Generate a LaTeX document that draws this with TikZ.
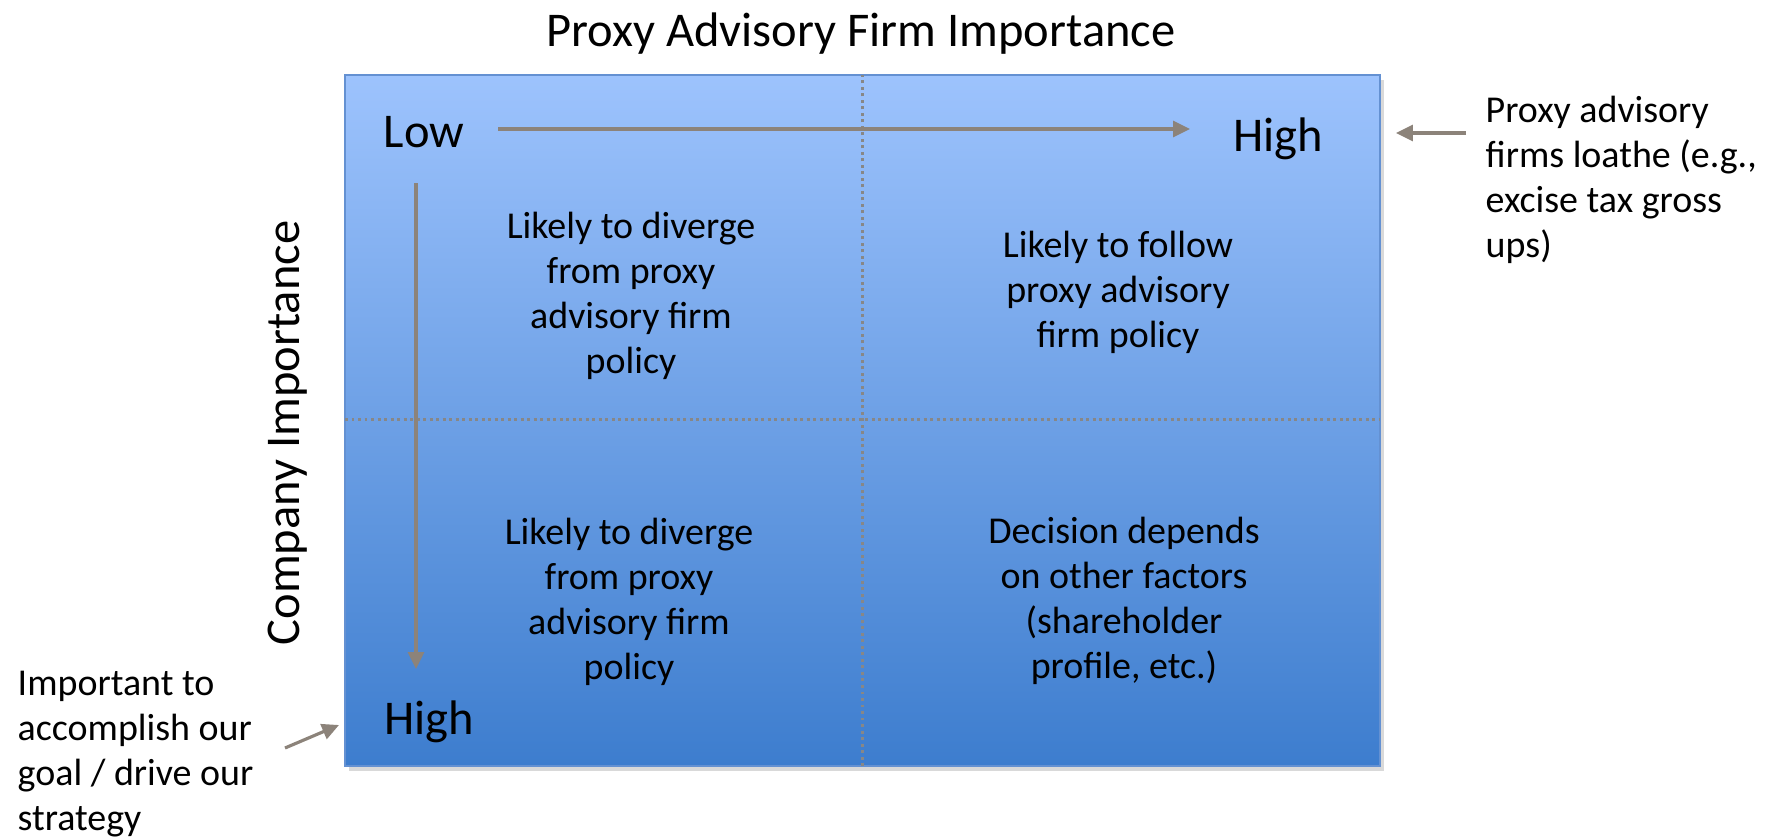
\documentclass[tikz,border=0pt]{standalone}
\usepackage{fontspec}
\setmainfont{Carlito}
\usetikzlibrary{arrows.meta,shadows}

\definecolor{boxtop}{RGB}{157,195,253}
\definecolor{boxbottom}{RGB}{61,125,206}
\definecolor{boxedge}{RGB}{100,145,210}
\definecolor{arrowgray}{RGB}{140,131,122}
\definecolor{gridgray}{RGB}{135,135,135}

\begin{document}
\begin{tikzpicture}[
    bigtext/.style={font=\fontsize{13.8}{16}\selectfont, inner sep=0pt},
    celltext/.style={font=\fontsize{10.8}{12.8}\selectfont, align=center, inner sep=0pt},
    notetext/.style={font=\fontsize{10.8}{12.8}\selectfont, align=left, inner sep=0pt, anchor=north west},
    axisarrow/.style={draw=arrowgray, line width=0.9pt, -{Triangle[length=4.8pt,width=4.5pt]}},
    gridline/.style={draw=gridgray, line width=0.85pt, dash pattern=on 0.85pt off 1.0pt}
]
    \useasboundingbox (0,0) rectangle (17.72,8.36);

    % 渐变底色方框
    \shade[top color=boxtop, bottom color=boxbottom, draw=boxedge, line width=0.5pt,
           drop shadow={shadow xshift=0.04, shadow yshift=-0.05, opacity=0.3}]
        (3.45,0.70) rectangle (13.80,7.61);

    % 四象限分隔虚线
    \draw[gridline] (8.62,0.70) -- (8.62,7.61); % 竖线
    \draw[gridline] (3.45,4.17) -- (13.80,4.17); % 横线

    % 坐标轴标题
    \node[bigtext, anchor=base] (title) at (8.61,7.90) {Proxy Advisory Firm Importance};
    \node[bigtext, anchor=base, rotate=90] (ylabel) at (2.99,4.03) {Company Importance};

    % 刻度文字
    \node[bigtext, anchor=base] (low) at (4.24,6.89) {Low};
    \node[bigtext, anchor=base] (hightop) at (12.78,6.85) {High};
    \node[bigtext, anchor=base] (highbot) at (4.29,1.02) {High};

    % 坐标轴箭头
    \coordinate (xstart) at (4.98,7.07);
    \coordinate (xend) at (11.90,7.07);
    \coordinate (ystart) at (4.16,6.53);
    \coordinate (yend) at (4.16,1.67);
    \draw[axisarrow] (xstart) -- (xend);
    \draw[axisarrow] (ystart) -- (yend);

    % 四个象限的说明
    \node[celltext] (cellTL) at (6.31,5.40) {Likely to diverge\\from proxy\\advisory firm\\policy};
    \node[celltext] (cellTR) at (11.18,5.44) {Likely to follow\\proxy advisory\\firm policy};
    \node[celltext] (cellBL) at (6.29,2.34) {Likely to diverge\\from proxy\\advisory firm\\policy};
    \node[celltext] (cellBR) at (11.24,2.35) {Decision depends\\on other factors\\(shareholder\\profile, etc.)};

    % 两侧注释及箭头
    \node[notetext] (noteR) at (14.85,7.41) {Proxy advisory\\firms loathe (e.g.,\\excise tax gross\\ups)};
    \node[notetext] (noteL) at (0.17,1.66) {Important to\\accomplish our\\goal / drive our\\strategy};
    \coordinate (boxR) at (13.96,7.03);
    \coordinate (boxL) at (3.39,1.11);
    \draw[axisarrow] ([xshift=-0.19cm]noteR.west |- boxR) -- (boxR);
    \draw[axisarrow] (2.85,0.88) -- (boxL);

\end{tikzpicture}
\end{document}
